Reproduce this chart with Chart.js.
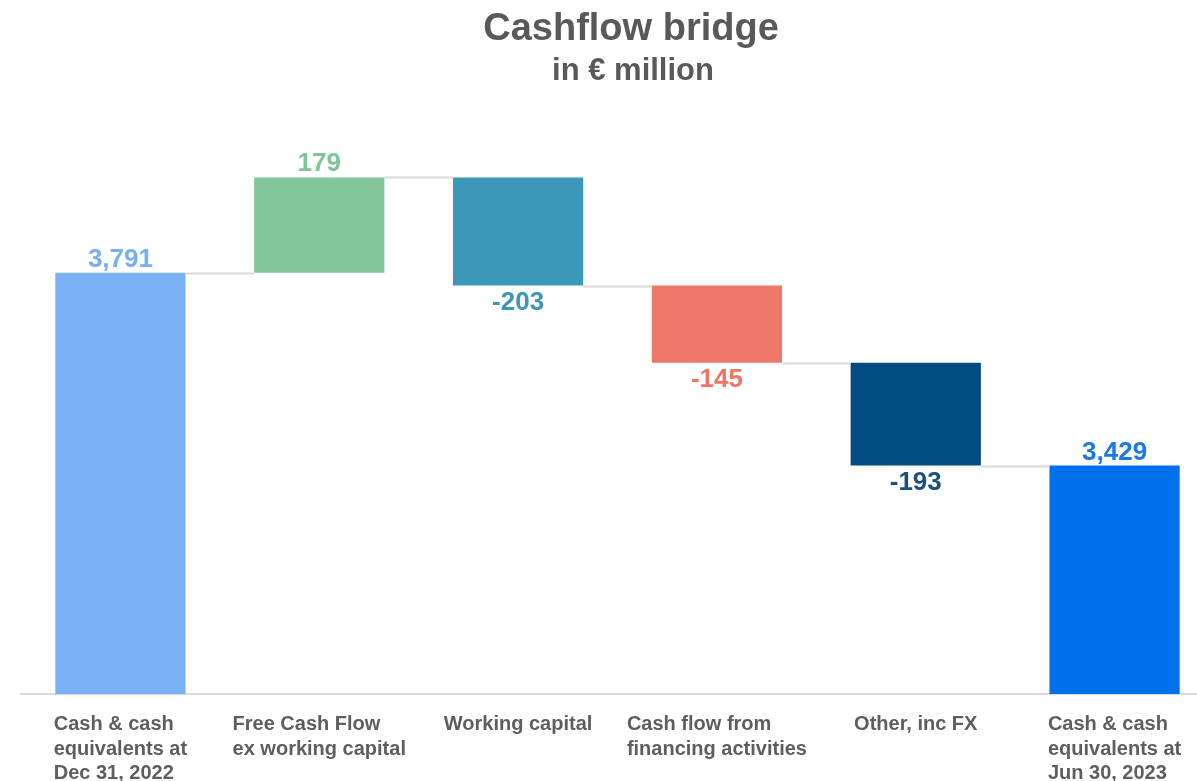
<!DOCTYPE html>
<html>
<head>
<meta charset="utf-8">
<title>Cashflow bridge</title>
<script src="https://cdn.jsdelivr.net/npm/chart.js@4/dist/chart.umd.min.js"></script>
<style>
  html, body { margin: 0; padding: 0; background: #fff; overflow: hidden; }
  #wrap { position: relative; width: 1197px; height: 781px; overflow: hidden; }
  canvas { display: block; }
</style>
</head>
<body>
<div id="wrap"><canvas id="bridge" width="1216" height="781"></canvas></div>
<script>
// Cashflow bridge: waterfall of cash movements, in € million
const categories = [
  ['Cash & cash', 'equivalents at', 'Dec 31, 2022'],
  ['Free Cash Flow', 'ex working capital'],
  ['Working capital'],
  ['Cash flow from', 'financing activities'],
  ['Other, inc FX'],
  ['Cash & cash', 'equivalents at', 'Jun 30, 2023']
];
const values = [3791, 179, -203, -145, -193, 3429];
const isTotal = [true, false, false, false, false, true];
const barColors = ['#7bb1f5', '#83c69e', '#3b98b8', '#ef7868', '#004b80', '#0070ed'];
const labelColors = ['#78aef2', '#80c49b', '#3a97b8', '#ee7666', '#1b4f80', '#1a78ea'];
const yMin = 3000;
const yMax = 4200;

const TEXT_GREY = '#5e5e5e';
const FONT = '"Liberation Sans", Arial, Helvetica, sans-serif';

// floating bars [start, end] + running level after each step
const floats = [];
const levels = [];
let running = 0;
values.forEach((v, i) => {
  if (isTotal[i]) {
    floats.push([yMin, v]);
    running = v;
  } else {
    floats.push([running, running + v]);
    running += v;
  }
  levels.push(running);
});

const fmtNum = v => v.toLocaleString('en-US');

const bridgePlugin = {
  id: 'bridgeDecor',
  afterDatasetsDraw(chart) {
    const ctx = chart.ctx;
    const meta = chart.getDatasetMeta(0);
    const y = chart.scales.y;
    ctx.save();

    // connector lines between bars
    ctx.strokeStyle = '#d9d9d9';
    ctx.lineWidth = 2;
    for (let i = 0; i < meta.data.length - 1; i++) {
      const a = meta.data[i], b = meta.data[i + 1];
      const py = Math.round(y.getPixelForValue(levels[i])) + 0.5;
      ctx.beginPath();
      ctx.moveTo(a.x + a.width / 2, py);
      ctx.lineTo(b.x - b.width / 2, py);
      ctx.stroke();
    }

    // value labels
    ctx.font = 'bold 26px ' + FONT;
    ctx.textAlign = 'center';
    meta.data.forEach((bar, i) => {
      const hi = Math.max(floats[i][0], floats[i][1]);
      const lo = Math.min(floats[i][0], floats[i][1]);
      ctx.fillStyle = labelColors[i];
      const txt = isTotal[i] ? fmtNum(values[i]) : (values[i] > 0 ? fmtNum(values[i]) : '-' + fmtNum(-values[i]));
      if (values[i] >= 0) {
        ctx.textBaseline = 'alphabetic';
        ctx.fillText(txt, bar.x, y.getPixelForValue(hi) - 6);
      } else {
        ctx.textBaseline = 'top';
        ctx.fillText(txt, bar.x, y.getPixelForValue(lo) + 4);
      }
    });

    // category labels: block centred under bar, lines left aligned
    ctx.font = 'bold 20px ' + FONT;
    ctx.fillStyle = TEXT_GREY;
    ctx.textAlign = 'left';
    ctx.textBaseline = 'alphabetic';
    meta.data.forEach((bar, i) => {
      const lines = categories[i];
      const w = Math.max(...lines.map(l => ctx.measureText(l).width));
      const x0 = bar.x - w / 2;
      lines.forEach((l, j) => ctx.fillText(l, x0, 730 + j * 24.5));
    });

    // title + subtitle
    ctx.textAlign = 'center';
    ctx.fillStyle = '#595959';
    ctx.font = 'bold 38px ' + FONT;
    ctx.fillText('Cashflow bridge', 631, 40);
    ctx.font = 'bold 31px ' + FONT;
    ctx.fillText('in € million', 633, 80);
    ctx.restore();
  }
};

new Chart(document.getElementById('bridge'), {
  type: 'bar',
  data: {
    labels: categories,
    datasets: [{
      data: floats,
      backgroundColor: barColors,
      borderWidth: 0,
      borderSkipped: false,
      categoryPercentage: 1,
      barPercentage: 0.655
    }]
  },
  options: {
    responsive: false,
    animation: false,
    layout: { padding: { left: 21, right: 2, top: 55, bottom: 87 } },
    plugins: {
      legend: { display: false },
      tooltip: { enabled: false },
      title: { display: false }
    },
    scales: {
      x: {
        grid: { display: false, drawTicks: false },
        border: { display: true, color: '#d9d9d9', width: 2 },
        ticks: { display: false }
      },
      y: {
        display: false,
        min: yMin,
        max: yMax
      }
    }
  },
  plugins: [bridgePlugin]
});
</script>
</body>
</html>
